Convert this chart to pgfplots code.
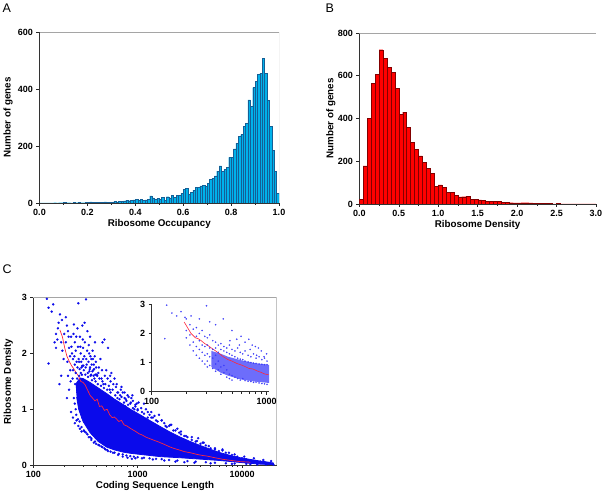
\documentclass[border=0pt]{standalone}
\usepackage{fontspec}
\setmainfont{Liberation Sans}
\usepackage{pgfplots}
\usepackage{pgfplotstable}
\pgfplotsset{compat=1.18}

\definecolor{barA}{RGB}{0,178,235}
\definecolor{edgeA}{RGB}{20,95,150}
\definecolor{barB}{RGB}{255,0,0}
\definecolor{edgeB}{RGB}{130,0,0}
\definecolor{dotC}{RGB}{10,10,235}
\definecolor{dotI}{RGB}{60,60,250}
\definecolor{lineC}{RGB}{255,40,60}
\definecolor{frameG}{RGB}{165,165,165}

\newcommand{\tb}[1]{\textbf{#1}}

\pgfplotstableread{
x y
0.005 0
0.015 0
0.025 0
0.035 0
0.045 0
0.055 0
0.065 1
0.075 0
0.085 1
0.095 1
0.105 3
0.115 1
0.125 1
0.135 0
0.145 2
0.155 1
0.165 2
0.175 1
0.185 1
0.195 2
0.205 2
0.215 4
0.225 2
0.235 3
0.245 2
0.255 2
0.265 3
0.275 4
0.285 3
0.295 3
0.305 3
0.315 5
0.325 4
0.335 5
0.345 6
0.355 7
0.365 9
0.375 8
0.385 10
0.395 11
0.405 12
0.415 10
0.425 14
0.435 10
0.445 11
0.455 12
0.465 25
0.475 18
0.485 12
0.495 16
0.505 14
0.515 20
0.525 10
0.535 22
0.545 18
0.555 26
0.565 20
0.575 28
0.585 26
0.595 34
0.605 48
0.615 52
0.625 30
0.635 38
0.645 45
0.655 55
0.665 56
0.675 60
0.685 62
0.695 58
0.705 70
0.715 82
0.725 86
0.735 95
0.745 112
0.755 130
0.765 110
0.775 118
0.785 125
0.795 160
0.805 160
0.815 190
0.825 210
0.835 235
0.845 240
0.855 270
0.865 280
0.875 362
0.885 340
0.895 405
0.905 428
0.915 452
0.925 456
0.935 508
0.945 455
0.955 360
0.965 270
0.975 185
0.985 110
0.995 34
}\dataA

\pgfplotstableread{
x y
0.025 22
0.075 178
0.125 402
0.175 566
0.225 608
0.275 722
0.325 683
0.375 640
0.425 616
0.475 542
0.525 420
0.575 430
0.625 359
0.675 288
0.725 256
0.775 225
0.825 194
0.875 167
0.925 144
0.975 84
1.025 89
1.075 77
1.125 55
1.175 55
1.225 42
1.275 33
1.325 34
1.375 36
1.425 23
1.475 22
1.525 19
1.575 17
1.625 12
1.675 14
1.725 14
1.775 11
1.825 8
1.875 8
1.925 6
1.975 5
2.025 5
2.075 6
2.125 6
2.175 5
2.225 3
2.275 3
2.325 2
2.375 2
2.425 2
2.475 1
2.525 2
2.575 1
2.625 1
2.675 1
2.725 1
2.775 0
2.825 1
2.875 0
2.925 1
2.975 0
}\dataB

\pgfplotsset{
  base/.style={
    scale only axis,
    axis x line*=bottom, axis y line*=left,
    tick align=outside,
    major tick length=3pt, minor tick length=2pt,
    tick style={black!85, line width=0.5pt},
    axis line style={line width=0.7pt, black!80},
    xticklabel style={font=\fontsize{9}{10}\selectfont\bfseries},
    yticklabel style={font=\fontsize{9}{10}\selectfont\bfseries},
    label style={font=\fontsize{9.8}{11}\selectfont\bfseries},
  },
}

\begin{document}
\begin{tikzpicture}
\useasboundingbox (0,0) rectangle (606pt,495pt);

% Panel letters
\node[anchor=north west, inner sep=0pt, font=\fontsize{12.5}{13}\selectfont] at (2.5pt,491pt) {A};
\node[anchor=north west, inner sep=0pt, font=\fontsize{12.5}{13}\selectfont] at (325.5pt,491pt) {B};
\node[anchor=north west, inner sep=0pt, font=\fontsize{12.5}{13}\selectfont] at (2.5pt,230pt) {C};

% Panel A
\begin{axis}[base,
  at={(39.5pt,292pt)}, anchor=south west,
  width=239.5pt, height=171pt,
  xmin=0, xmax=1, ymin=0, ymax=600,
  xtick={0,0.2,0.4,0.6,0.8,1},
  xticklabels={\tb{0.0},\tb{0.2},\tb{0.4},\tb{0.6},\tb{0.8},\tb{1.0}},
  minor xtick={0.1,0.3,0.5,0.7,0.9},
  ytick={0,200,400,600},
  yticklabels={\tb{0},\tb{200},\tb{400},\tb{600}},
  xlabel={Ribosome Occupancy},
  ylabel={Number of genes},
  xlabel style={at={(axis description cs:0.5,-0.12)}, anchor=center},
  ylabel style={at={(axis description cs:-0.1315,0.5)}, anchor=center},
]
\addplot[ybar, bar width=0.01, bar shift=0pt, fill=barA, draw=edgeA, line width=0.3pt] table[x=x,y=y] {\dataA};
\draw[frameG, line width=0.7pt] (rel axis cs:0,1) -- (rel axis cs:1,1) -- (rel axis cs:1,0);
\end{axis}

% Panel B
\begin{axis}[base,
  at={(359.3pt,291pt)}, anchor=south west,
  width=236.7pt, height=171pt,
  xmin=0, xmax=3, ymin=0, ymax=800,
  xtick={0,0.5,1,1.5,2,2.5,3},
  xticklabels={\tb{0.0},\tb{0.5},\tb{1.0},\tb{1.5},\tb{2.0},\tb{2.5},\tb{3.0}},
  minor xtick={0.25,0.75,1.25,1.75,2.25,2.75},
  ytick={0,200,400,600,800},
  yticklabels={\tb{0},\tb{200},\tb{400},\tb{600},\tb{800}},
  xlabel={Ribosome Density},
  ylabel={Number of genes},
  xlabel style={at={(axis description cs:0.5,-0.12)}, anchor=center},
  ylabel style={at={(axis description cs:-0.12,0.5)}, anchor=center},
]
\addplot[ybar, bar width=0.05, bar shift=0pt, fill=barB, draw=edgeB, line width=0.3pt] table[x=x,y=y] {\dataB};
\draw[frameG, line width=0.7pt] (rel axis cs:0,1) -- (rel axis cs:1,1) -- (rel axis cs:1,0);
\end{axis}

% Panel C main
\begin{axis}[base,
  at={(33.3pt,30pt)}, anchor=south west,
  width=243.4pt, height=167.3pt,
  xmode=log,
  xmin=100, xmax=21500, ymin=0, ymax=3,
  xtick={100,1000,10000},
  xticklabels={\tb{100},\tb{1000},\tb{10000}},
  ytick={0,1,2,3},
  yticklabels={\tb{0},\tb{1},\tb{2},\tb{3}},
  xlabel={Coding Sequence Length},
  ylabel={Ribosome Density},
  xlabel style={at={(axis description cs:0.5,-0.124)}, anchor=center},
  ylabel style={at={(axis description cs:-0.103,0.5)}, anchor=center},
]
% dense core of the cloud
\addplot[fill=dotC, draw=dotC, line width=0.8pt] coordinates {
(255,1.45) (280,1.56) (300,1.55) (350,1.48) (420,1.38) (506,1.28) (600,1.18) (731,1.08) (850,1.0) (1057,0.9) (1300,0.8) (1644,0.69) (2000,0.6) (2557,0.5) (3200,0.42) (3981,0.35) (5000,0.28) (6190,0.22) (7800,0.17) (9640,0.13) (12000,0.1) (15000,0.07) (18000,0.05) (20000,0.035)
(20000,0.005) (15000,0.015) (9640,0.045) (6190,0.08) (3981,0.105) (2557,0.13) (1644,0.15) (1057,0.19) (850,0.21) (731,0.23) (600,0.27) (506,0.32) (420,0.42) (350,0.58) (300,0.78) (272,1.0) (260,1.22)
};
% scattered genes
\addplot[only marks, mark=*, mark size=1.1pt, mark options={fill=dotC, draw=dotC, line width=0.2pt}] coordinates {
(135,2.98) (140,2.82) (150,2.75) (155,2.88) (160,2.2) (165,2.35) (170,2.25) (175,2.55) (180,2.7) (185,2.2) (190,2.05)
(178,1.45) (185,1.6) (195,1.9) (140,1.82) (165,2.1) (172,2.45) (188,2.6) (198,2.35)
(205,2.65) (210,2.5) (215,2.4) (220,2.1) (225,1.95) (230,2.3) (235,2.0) (240,1.7) (245,2.52) (250,2.2) (255,2.05)
(260,1.85) (265,2.45) (270,2.9) (275,1.6) (280,2.3) (285,2.0) (290,1.75) (295,2.5) (300,1.9)
(210,1.2) (220,1.35) (230,0.95) (240,0.85) (250,0.75) (260,0.8) (270,0.7) (280,0.65) (290,0.6)
(215,1.6) (228,1.5) (245,1.2) (255,1.0) (265,1.3) (275,1.1) (285,0.95) (295,0.85)
(310,2.55) (320,2.97) (330,2.4) (340,2.15) (350,2.3) (360,1.9) (370,2.05) (380,1.8) (390,2.2) (400,1.75)
(420,1.65) (440,1.9) (460,2.2) (480,2.25) (500,1.7) (330,0.55) (350,0.5) (380,0.4) (400,0.38) (430,0.35)
(460,0.32) (490,0.28) (310,0.6) (360,0.45) (410,1.6) (450,1.55) (470,1.45) (520,2.1) (350,1.75) (300,2.1)
(550,1.5) (600,1.55) (650,1.3) (700,1.4) (750,1.2) (800,1.25) (850,1.1) (900,1.15) (950,1.05) (1000,1.0)
(560,1.65) (620,1.4) (680,1.25) (720,1.3) (780,1.15) (870,1.2) (930,1.0) (980,1.1) (520,0.25) (580,0.22)
(650,0.18) (720,0.15) (800,0.13) (880,0.11) (950,0.12) (540,1.35) (640,1.2) (760,1.05)
(1100,0.95) (1200,1.0) (1300,0.9) (1400,0.85) (1500,0.8) (1600,0.9) (1800,0.75) (2000,0.7) (2200,0.62)
(2500,0.58) (2800,0.52) (3000,0.5) (1150,1.1) (1350,0.95) (1700,0.8) (2100,0.72) (2400,0.65) (1250,0.85)
(1900,0.68) (2600,0.55) (1100,0.12) (1400,0.1) (1800,0.08) (2300,0.06) (2800,0.05)
(3300,0.45) (3600,0.42) (4000,0.38) (4500,0.35) (5000,0.3) (5500,0.28) (6000,0.25) (7000,0.22) (8000,0.18)
(9000,0.15) (10000,0.12) (11000,0.1) (12000,0.08) (13500,0.07) (15000,0.06) (16500,0.05) (18000,0.03)
(19500,0.02) (3800,0.48) (4200,0.4) (6500,0.28) (3500,0.04) (5000,0.03) (8000,0.02) (12000,0.015)
(240,1.9) (250,1.8) (255,1.65) (265,1.75) (275,1.85) (285,1.65) (295,1.78) (305,1.7) (315,1.62) (325,1.8)
(335,1.58) (345,1.68) (355,1.6) (365,1.52) (375,1.7) (385,1.55) (395,1.5) (405,1.62) (415,1.45) (430,1.55)
(445,1.42) (460,1.5) (475,1.38) (490,1.45) (510,1.35) (530,1.42) (550,1.3) (575,1.35) (610,1.25) (640,1.3)
(670,1.18) (700,1.22) (740,1.12) (770,1.18) (810,1.08) (860,1.12) (900,1.02) (950,1.08) (1000,0.98) (1080,1.02)
(1150,0.92) (1250,0.95) (1350,0.85) (1450,0.88) (1550,0.78) (1700,0.8) (1850,0.7) (2050,0.72) (2300,0.62)
(2600,0.6) (2900,0.52) (3300,0.5) (3700,0.43) (4300,0.4) (4800,0.34) (5500,0.3) (6500,0.26) (7500,0.22)
(8500,0.19) (10500,0.15) (13000,0.12) (16000,0.09) (19000,0.07)
(250,1.1) (258,0.9) (268,0.82) (278,0.78) (290,0.68) (305,0.62) (320,0.58) (340,0.5) (360,0.48) (390,0.42)
(420,0.36) (450,0.33) (480,0.3) (510,0.27) (550,0.24) (600,0.22) (660,0.2) (720,0.19) (780,0.17) (850,0.16)
(920,0.15) (1000,0.14) (1150,0.13) (1300,0.12) (1500,0.11) (1700,0.105) (2000,0.09) (2400,0.08) (3000,0.07)
(3600,0.06) (4500,0.05) (5500,0.04) (7000,0.03) (8500,0.025) (11000,0.02) (14000,0.01) (17000,0.008) (20000,0.005)
(205,2.2) (212,1.85) (218,2.3) (226,1.7) (232,2.12) (238,1.55) (243,2.35) (248,1.95) (252,1.45) (258,2.3)
(263,1.55) (268,2.12) (272,1.9) (278,1.72) (282,2.12) (288,1.85) (292,1.62) (298,2.25) (302,1.78) (308,1.95)
(312,2.2) (318,1.75) (322,1.9) (328,2.05) (333,1.65) (338,1.85) (343,2.0) (348,1.72) (353,1.95) (358,1.62)
(363,1.8) (368,1.68) (373,1.9) (378,1.6) (383,1.72) (388,1.95) (393,1.62) (398,1.85) (425,1.75) (455,1.7)
(485,1.6) (515,1.55) (545,1.6) (585,1.45) (630,1.45) (690,1.35) (750,1.3) (820,1.22) (890,1.25) (1020,1.12)
};
% running median
\addplot[lineC, line width=0.7pt] coordinates {
(180,2.42) (190,2.3) (200,2.1) (210,1.95) (222,1.85) (233,1.78) (245,1.72) (258,1.65) (270,1.6) (285,1.5)
(300,1.48) (313,1.44) (330,1.35) (350,1.25) (370,1.2) (390,1.15) (410,1.18) (430,1.05) (453,1.06) (480,0.98)
(510,1.0) (540,0.9) (570,0.85) (600,0.86) (631,0.82) (660,0.78) (700,0.8) (740,0.72) (790,0.7) (847,0.66)
(900,0.63) (960,0.6) (1030,0.56) (1100,0.54) (1200,0.5) (1318,0.47) (1450,0.44) (1600,0.41) (1800,0.37)
(2000,0.33) (2207,0.30) (2500,0.27) (2800,0.24) (3190,0.22) (3700,0.19) (4200,0.17) (4615,0.16) (5500,0.13)
(6660,0.10) (8000,0.08) (9640,0.06) (11000,0.055) (12000,0.05)
};
\draw[frameG, line width=0.7pt] (rel axis cs:0,1) -- (rel axis cs:1,1) -- (rel axis cs:1,0);
\end{axis}

% Panel C inset
\begin{axis}[base,
  at={(151.7pt,103.3pt)}, anchor=south west,
  width=117.3pt, height=87.4pt,
  axis background/.style={fill=white},
  xmode=log,
  xmin=100, xmax=1050, ymin=0, ymax=3,
  xtick={100,1000},
  xticklabels={\tb{100},\tb{1000}},
  ytick={0,1,2,3},
  yticklabels={\tb{0},\tb{1},\tb{2},\tb{3}},
]
\addplot[fill=dotI!75, draw=none] coordinates {
(330,1.4) (400,1.3) (462,1.2) (600,1.08) (787,0.98) (1050,0.92)
(1050,0.3) (787,0.35) (600,0.42) (462,0.55) (400,0.65) (330,0.85)
};
\addplot[only marks, color=dotI, mark=*, mark size=0.7pt, mark options={fill=dotI, draw=dotI, line width=0.1pt}] coordinates {
(135,2.97) (130,1.82) (150,2.7) (165,2.6) (180,2.75) (195,2.55) (300,2.95) (420,2.5) (500,2.1) (600,1.9)
(700,1.8) (850,1.5) (1000,1.3) (220,2.6) (260,2.5) (360,2.3) (320,2.4)
(200,2.5) (200,2.1) (200,1.85)
(215,2.3) (215,1.95) (215,1.6)
(230,2.15) (230,1.7) (230,1.4)
(245,2.2) (245,1.9) (245,1.55) (245,1.25)
(260,2.0) (260,1.75) (260,1.45) (260,1.15)
(275,2.1) (275,1.6) (275,1.35) (275,1.05)
(290,1.9) (290,1.55) (290,1.25) (290,0.95)
(305,1.85) (305,1.6) (305,1.3) (305,1.05) (305,0.85)
(320,1.95) (320,1.5) (320,1.2) (320,0.9)
(340,1.75) (340,1.45) (340,1.15) (340,0.8)
(360,1.7) (360,1.5) (360,1.25) (360,0.95) (360,0.7)
(380,1.6) (380,1.35) (380,1.05) (380,0.75)
(400,1.65) (400,1.45) (400,0.85) (400,0.6)
(425,1.55) (425,1.4) (425,0.9) (425,0.65)
(450,1.5) (450,1.35) (450,0.75) (450,0.5)
(475,1.6) (475,1.3) (475,0.6) (475,0.45)
(500,1.45) (500,1.25) (500,0.55) (500,0.4)
(530,1.4) (530,1.2) (530,0.5)
(560,1.5) (560,1.15) (560,0.45)
(590,1.35) (590,1.12) (590,0.4)
(620,1.3) (620,1.1) (620,0.45)
(650,1.4) (650,1.05) (650,0.38)
(690,1.25) (690,1.02) (690,0.36)
(730,1.2) (730,1.0) (730,0.35)
(770,1.3) (770,0.98) (770,0.32)
(810,1.15) (810,0.97) (810,0.33)
(860,1.2) (860,0.95) (860,0.3)
(910,1.1) (910,0.94) (910,0.28)
(960,1.15) (960,0.93) (960,0.27)
(1010,1.05) (1010,0.93) (1010,0.25)
(550,1.8) (650,1.7) (750,1.6) (800,1.55) (900,1.4) (950,1.2) (480,1.75) (580,1.6) (720,1.45) (820,1.25)
};
\addplot[lineC, line width=0.6pt] coordinates {
(192,2.39) (205,2.2) (220,2.0) (240,1.85) (254,1.82) (270,1.75) (290,1.65) (310,1.58) (331,1.5) (360,1.4)
(390,1.3) (420,1.2) (462,1.1) (500,1.05) (550,0.97) (600,0.92) (644,0.87) (700,0.8) (760,0.78) (820,0.72)
(900,0.66) (961,0.61) (1040,0.58)
};
\end{axis}
\end{tikzpicture}
\end{document}
